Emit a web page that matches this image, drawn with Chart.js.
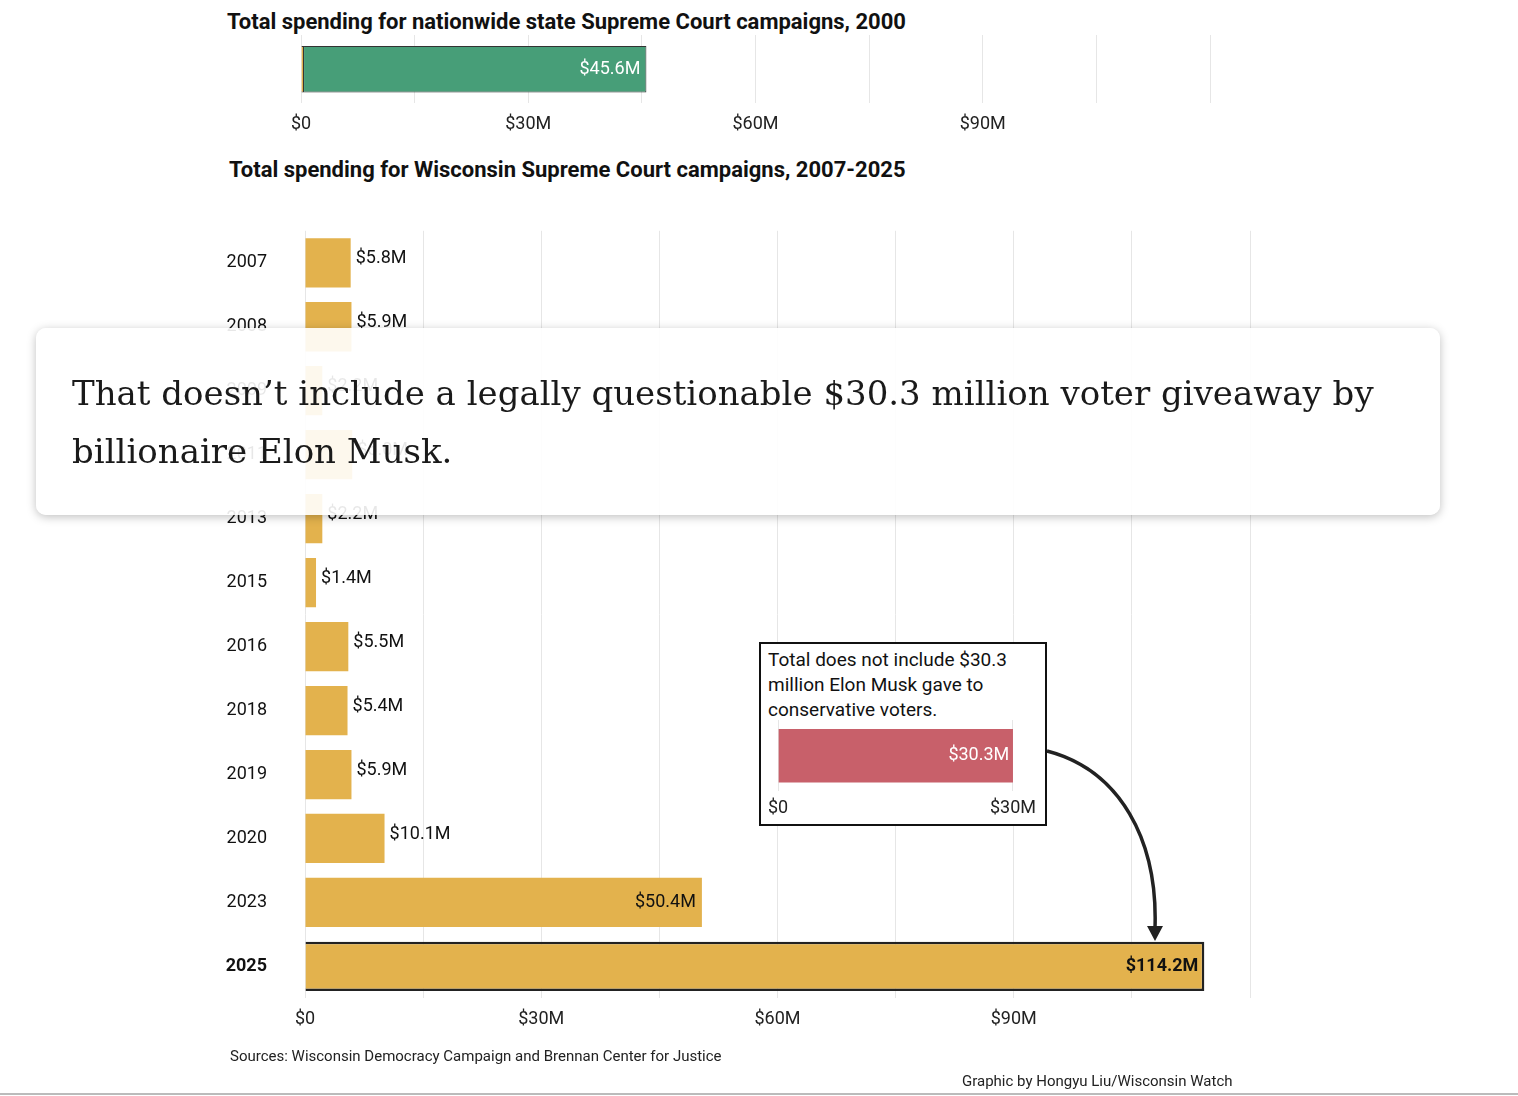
<!DOCTYPE html>
<html><head><meta charset="utf-8">
<script src="https://cdn.jsdelivr.net/npm/chart.js@4"></script>
<style>
body{margin:0;width:1518px;height:1096px;background:#fff;font-family:Roboto,sans-serif;position:relative;overflow:hidden}
.abs{position:absolute}
h2{position:absolute;margin:0;font-size:22px;font-weight:700;color:#111}
.overlay{position:absolute;left:36px;top:328px;width:1404px;height:187px;background:rgba(255,255,255,0.9);border-radius:10px;box-shadow:0 2px 10px rgba(0,0,0,0.25);font-family:"DejaVu Serif","Liberation Serif",serif;font-size:34px;line-height:58px;color:#1a1a1a;padding:36px 0 0 36px;box-sizing:border-box}
</style></head><body>
<h2 style="left:227px;top:9px">Total spending for nationwide state Supreme Court campaigns, 2000</h2>
<div class="abs" style="left:220px;top:35px;width:1000px;height:110px"><canvas id="c1"></canvas></div>
<h2 style="left:229px;top:157px">Total spending for Wisconsin Supreme Court campaigns, 2007-2025</h2>
<div class="abs" style="left:220px;top:190px;width:1040px;height:850px"><canvas id="c2"></canvas></div>
<div class="overlay">That doesn’t include a legally questionable $30.3 million voter giveaway by<br>billionaire Elon Musk.</div>
<div class="abs" style="left:759px;top:642px;width:284px;height:180px;border:2.5px solid #111;background:#fff"></div>
<div class="abs" style="left:768px;top:647px;font-size:19px;line-height:25px;color:#111">Total does not include $30.3<br>million Elon Musk gave to<br>conservative voters.</div>
<div class="abs" style="left:762px;top:720px;width:280px;height:105px"><canvas id="c3"></canvas></div>
<svg class="abs" style="left:0;top:0" width="1518" height="1096">
<path d="M1047 751 C1120 770 1158 840 1155 928" fill="none" stroke="#222" stroke-width="3.5"/>
<polygon points="1147,926 1163,926 1155,941" fill="#222"/>
<line x1="0" y1="1094" x2="1518" y2="1094" stroke="#bbb" stroke-width="2"/>
</svg>
<div class="abs" style="left:230px;top:1047px;font-size:15px;color:#222">Sources: Wisconsin Democracy Campaign and Brennan Center for Justice</div>
<div class="abs" style="left:962px;top:1072px;font-size:15px;color:#222">Graphic by Hongyu Liu/Wisconsin Watch</div>
<script>
const nationalLabels = ['2000'];
const nationalOther = [0.4];
const nationalMain = [45.2];
const nationalTotal = [45.6];
const wiYears = ['2007','2008','2009','2011','2013','2015','2016','2018','2019','2020','2023','2025'];
const wiSpending = [5.8,5.9,2.2,6.0,2.2,1.4,5.5,5.4,5.9,10.1,50.4,114.2];
const muskLabels = ['Musk'];
const muskSpending = [30.3];
const xTicks = [0,30,60,90];

const font = {family:'Roboto', size:18};
const money = v => xTicks.includes(v) ? '$' + (v === 0 ? '0' : v + 'M') : '';
function xScale(max, grid) {
  return {min:0, max:max, stacked:true, border:{display:false},
    grid:{display:grid, color:'#e6e6e6', drawTicks:false},
    ticks:{stepSize:15, autoSkip:false, color:'#222', font:font, padding:10, callback:money, maxRotation:0}};
}
// value labels at bar ends
const valueLabels = {
  id:'valueLabels',
  afterDatasetsDraw(chart, args, opts) {
    const ctx = chart.ctx, x = chart.scales.x;
    const vals = opts.values;
    const meta = chart.getDatasetMeta(chart.data.datasets.length - 1);
    vals.forEach((v, i) => {
      const px = x.getPixelForValue(v), py = meta.data[i].y;
      const bold = opts.boldIndex === i;
      ctx.save();
      ctx.font = (bold ? 'bold ' : '') + '18px Roboto';
      ctx.textBaseline = 'middle';
      const text = '$' + v.toFixed(1) + 'M';
      if (v >= opts.inside) {
        ctx.textAlign = 'right';
        ctx.fillStyle = (opts.darkInside || bold) ? '#111' : '#fff';
        ctx.fillText(text, px - 6, py);
      } else {
        ctx.textAlign = 'left';
        ctx.fillStyle = '#111';
        ctx.fillText(text, px + 5, py - 4);
      }
      ctx.restore();
    });
  }
};
const base = {responsive:true, maintainAspectRatio:false, animation:false, indexAxis:'y',
  plugins:{legend:{display:false}, tooltip:{enabled:false}}};

new Chart(document.getElementById('c1'), {
  type:'bar',
  data:{labels:nationalLabels, datasets:[
    {data:nationalOther, backgroundColor:'#E3B24D', borderColor:'#333', borderWidth:1, categoryPercentage:0.68, barPercentage:1},
    {data:nationalMain, backgroundColor:'#479E78', borderColor:'#333', borderWidth:1, categoryPercentage:0.68, barPercentage:1}
  ]},
  options:{...base, layout:{padding:{right:10}},
    plugins:{...base.plugins, valueLabels:{values:nationalTotal, inside:20}},
    scales:{x:xScale(120, true), y:{stacked:true, display:true, afterFit(s){s.width=81;}, grid:{display:false}, border:{display:false}, ticks:{display:false}}}},
  plugins:[valueLabels]
});

new Chart(document.getElementById('c2'), {
  type:'bar',
  data:{labels:wiYears, datasets:[{data:wiSpending,
    backgroundColor:'#E3B24D',
    borderColor:wiYears.map((y,i) => i === wiYears.length-1 ? '#222' : 'rgba(0,0,0,0)'),
    borderWidth:wiYears.map((y,i) => i === wiYears.length-1 ? 2.5 : 0),
    categoryPercentage:0.77, barPercentage:1}]},
  options:{...base, layout:{padding:{right:-20}},
    plugins:{...base.plugins, valueLabels:{values:wiSpending, inside:40, darkInside:true, boldIndex:wiYears.length-1}},
    scales:{x:xScale(120, true),
      y:{afterFit(s){s.width=85;}, grid:{display:false}, border:{display:false},
        ticks:{color:'#111', padding:30, font:ctx => ({family:'Roboto', size:18, weight: ctx.index === wiYears.length-1 ? 'bold' : 'normal'})}}}},
  plugins:[valueLabels]
});

new Chart(document.getElementById('c3'), {
  type:'bar',
  data:{labels:muskLabels, datasets:[{data:muskSpending, backgroundColor:'#C8606A', categoryPercentage:0.75, barPercentage:1}]},
  options:{...base, layout:{padding:{right:28, left:0}},
    plugins:{...base.plugins, valueLabels:{values:muskSpending, inside:10}},
    scales:{x:{min:0, max:30, border:{display:false}, grid:{color:'#e6e6e6', drawTicks:false},
        ticks:{stepSize:30, color:'#222', font:font, padding:6, callback:money}},
      y:{afterFit(s){s.width=16;}, grid:{display:false}, border:{display:false}, ticks:{display:false}}}},
  plugins:[valueLabels]
});
</script>
</body></html>
